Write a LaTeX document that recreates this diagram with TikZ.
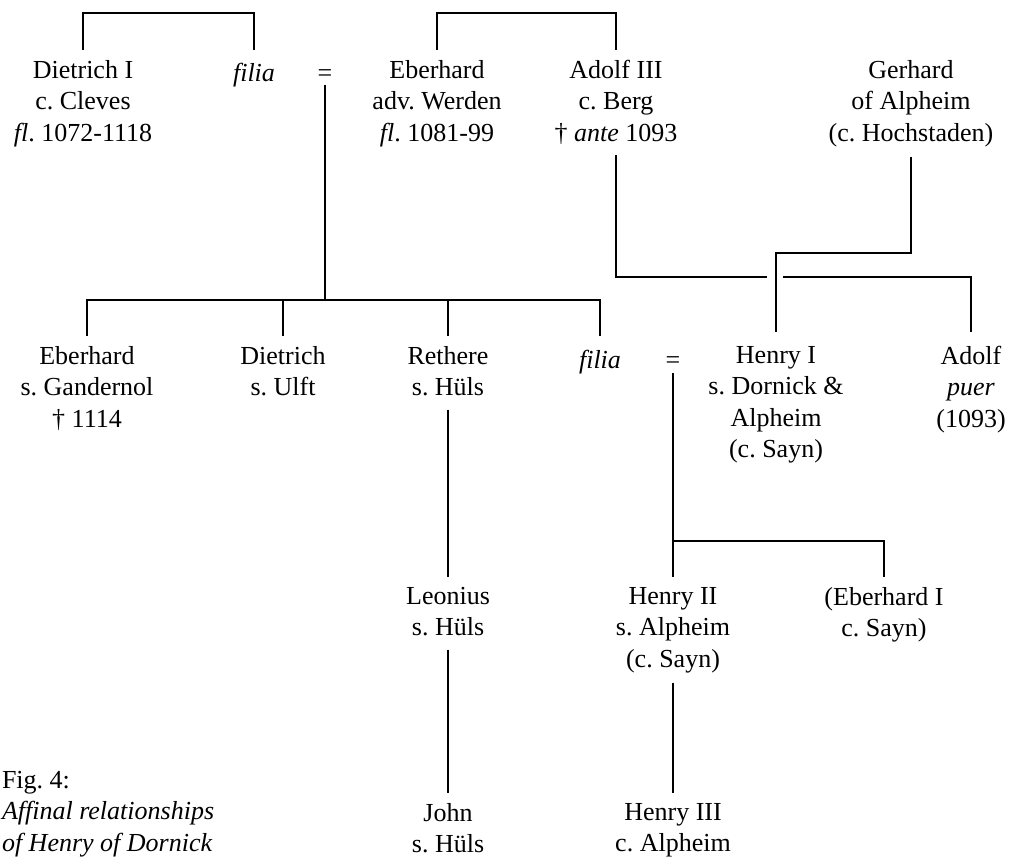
\documentclass[tikz,border=0pt]{standalone}
\usepackage{fontspec}
\setmainfont{Liberation Serif}
\usetikzlibrary{calc}
\frenchspacing
% struts fixing the height of the first line and the depth of the last line
\newcommand\tstr{\rule{0pt}{22pt}}
\newcommand\bstr{\rule[-4pt]{0pt}{4pt}}
\begin{document}
\begin{tikzpicture}[x=1pt,y=-1pt,
  person/.style={font=\fontsize{26}{31.5}\selectfont, align=center, inner sep=0pt,
    outer xsep=0pt, outer ysep=10pt, anchor=north,
    execute at begin node=\tstr, execute at end node=\bstr},
  marriage/.style={font=\fontsize{26}{31.5}\selectfont, inner sep=0pt, outer sep=0pt, anchor=base},
  caption/.style={font=\fontsize{26}{31.5}\selectfont, align=left, inner sep=0pt, outer sep=0pt,
    anchor=north west, execute at begin node=\tstr},
  link/.style={line width=2.5pt, line join=miter}]
\useasboundingbox (0,0) rectangle (1012,861);

% first generation
\node[person] (dietrich)  at (83,50)  {Dietrich I\\c. Cleves\\\textit{fl}. 1072-1118};
\node[person] (filiaA)    at (254,50) {\textit{filia}};
\node[marriage] (eqA)     at (325,82) {=};
\node[person] (eberhardW) at (437,50) {Eberhard\\adv. Werden\\\textit{fl}. 1081-99};
\node[person] (adolfIII)  at (616,50) {Adolf III\\c. Berg\\† \textit{ante} 1093};
\node[person] (gerhard)   at (911,50) {Gerhard\\of Alpheim\\(c. Hochstaden)};

% second generation
\node[person] (eberhardG) at (87,336)  {Eberhard\\s. Gandernol\\† 1114};
\node[person] (dietrichU) at (283,336) {Dietrich\\s. Ulft};
\node[person] (rethere)   at (448,336) {Rethere\\s. Hüls};
\node[person] (filiaB)    at (600,336) {\textit{filia}};
\node[marriage] (eqB)     at (673,368) {=};
\node[person] (henryI)    at (776,336) {Henry I\\s. Dornick \&\\Alpheim\\(c. Sayn)};
\node[person] (adolfP)    at (971,336) {Adolf\\\textit{puer}\\(1093)};

% third generation
\node[person] (leonius)   at (448,577) {Leonius\\s. Hüls};
\node[person] (henryII)   at (673,577) {Henry II\\s. Alpheim\\(c. Sayn)};
\node[person] (eberhardI) at (884,577) {(Eberhard I\\c. Sayn)};

% fourth generation
\node[person] (john)      at (448,793) {John\\s. Hüls};
\node[person] (henryIII)  at (673,793) {Henry III\\c. Alpheim};

\node[caption] (cap) at (2,771) {Fig. 4:\\\textit{Affinal relationships}\\\textit{of Henry of Dornick}};

% junction points
\coordinate (topA) at (170,13);
\coordinate (topB) at (526,13);
\coordinate (famA) at (325,300);
\coordinate (gapL) at (767,277);
\coordinate (gapR) at (783,277);
\coordinate (kink) at (776,253);
\coordinate (famB) at (673,541);

% sibling brackets
\draw[link] (dietrich.north) |- (topA) -| (filiaA.north);
\draw[link] (eberhardW.north) |- (topB) -| (adolfIII.north);

% children of Dietrich I's marriage
\draw[link] ([yshift=-3pt]eqA.base) -- (famA);
\draw[link] (eberhardG.north) |- (famA) -| (filiaB.north);
\draw[link] (dietrichU.north) -- (dietrichU.north |- famA);
\draw[link] (rethere.north) -- (rethere.north |- famA);
\draw[link] (rethere.south) -- (leonius.north);
\draw[link] (leonius.south) -- (john.north);

% Adolf III and Gerhard of Alpheim
\draw[link] (adolfIII.south) |- (gapL);
\draw[link] (gapR) -| ([yshift=4pt]adolfP.north);
\draw[link] (gerhard.south) |- (kink) -- ([yshift=4pt]henryI.north);

% children of the second marriage
\draw[link] ([yshift=-5pt]eqB.base) -- (henryII.north);
\draw[link] (famB) -| (eberhardI.north);
\draw[link] (henryII.south) -- (henryIII.north);
\end{tikzpicture}
\end{document}
